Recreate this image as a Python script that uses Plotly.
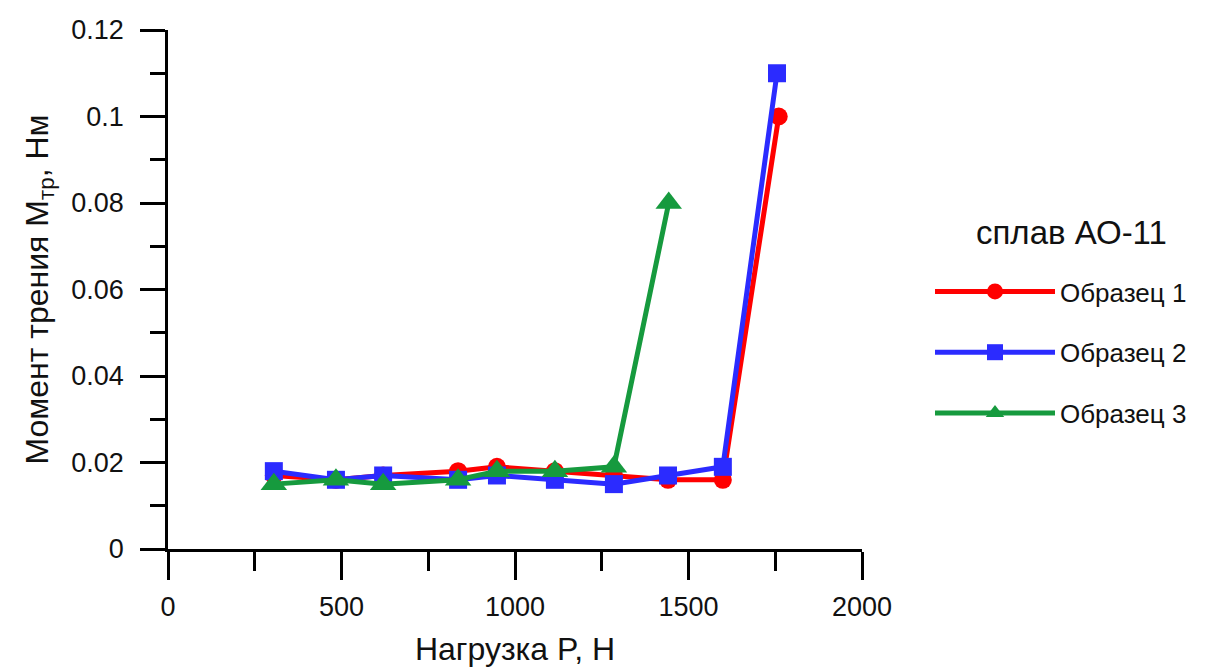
import plotly.graph_objects as go

# Load P, N
x1 = [305, 484, 620, 836, 948, 1115, 1285, 1441, 1599, 1760]
y1 = [0.017, 0.016, 0.017, 0.018, 0.019, 0.018, 0.017, 0.016, 0.016, 0.100]

x2 = [305, 484, 620, 836, 948, 1115, 1285, 1441, 1599, 1755]
y2 = [0.018, 0.016, 0.017, 0.016, 0.017, 0.016, 0.015, 0.017, 0.019, 0.110]

x3 = [305, 484, 620, 836, 948, 1115, 1285, 1443]
y3 = [0.015, 0.016, 0.015, 0.016, 0.018, 0.018, 0.019, 0.080]

names = ["Образец 1", "Образец 2", "Образец 3"]
legend_title = "сплав АО-11"
x_title = "Нагрузка P, Н"
y_title = "Момент трения M<sub>тр</sub>, Нм"

FONT = "Liberation Sans, Arial, sans-serif"

fig = go.Figure()
series = [
    (x1, y1, names[0], "#FF0000", "circle", 18),
    (x2, y2, names[1], "#2B2BFF", "square", 18),
    (x3, y3, names[2], "#169A3E", "triangle-up", 23),
]
for i, (xs, ys, nm, col, sym, sz) in enumerate(series):
    fig.add_trace(go.Scatter(
        x=xs, y=ys, name=nm, mode="lines+markers",
        legendgroup=f"g{i}",
        line=dict(color=col, width=5),
        marker=dict(symbol=sym, size=sz, color=col, line=dict(width=0)),
    ))

axis_common = dict(
    showline=True, linecolor="black", linewidth=2.5,
    ticks="outside", tickcolor="black", tickwidth=2.5,
    showgrid=False, zeroline=False, mirror=False, automargin=False,
    tickfont=dict(family=FONT, size=27, color="#111"),
)

fig.update_xaxes(
    range=[0, 2000], tickvals=[0, 500, 1000, 1500, 2000], ticklen=28,
    minor=dict(ticks="outside", ticklen=19, tickwidth=2.5, tickcolor="black", dtick=250, tick0=0),
    title=dict(text=x_title, font=dict(family=FONT, size=32, color="#111"), standoff=17),
    ticklabelstandoff=4,
    **axis_common,
)
fig.update_yaxes(
    range=[0, 0.12], tickvals=[0, 0.02, 0.04, 0.06, 0.08, 0.1, 0.12], ticklen=25,
    ticktext=["0", "0.02", "0.04", "0.06", "0.08", "0.1", "0.12"],
    minor=dict(ticks="outside", ticklen=15, tickwidth=2.5, tickcolor="black", dtick=0.01, tick0=0),
    title=dict(text=y_title, font=dict(family=FONT, size=32, color="#111"), standoff=14),
    ticklabelstandoff=11,
    **axis_common,
)

fig.add_annotation(
    text=legend_title, xref="paper", yref="paper",
    x=(1071 - 168) / 694, y=(549 - 232) / 519, xanchor="center", yanchor="middle",
    showarrow=False, font=dict(family=FONT, size=33, color="#111"),
)

fig.update_layout(
    width=1215, height=670,
    margin=dict(l=168, r=353, t=30, b=121, autoexpand=False),
    plot_bgcolor="white", paper_bgcolor="white",
    font=dict(family=FONT, color="#111"),
    legend=dict(
        x=(930 - 168) / 694, xanchor="left", y=(549 - 268) / 519, yanchor="top",
        font=dict(family=FONT, size=26, color="#111"),
        itemwidth=120, tracegroupgap=24,
        bgcolor="rgba(0,0,0,0)",
    ),
)

fig.write_html("out.html")
